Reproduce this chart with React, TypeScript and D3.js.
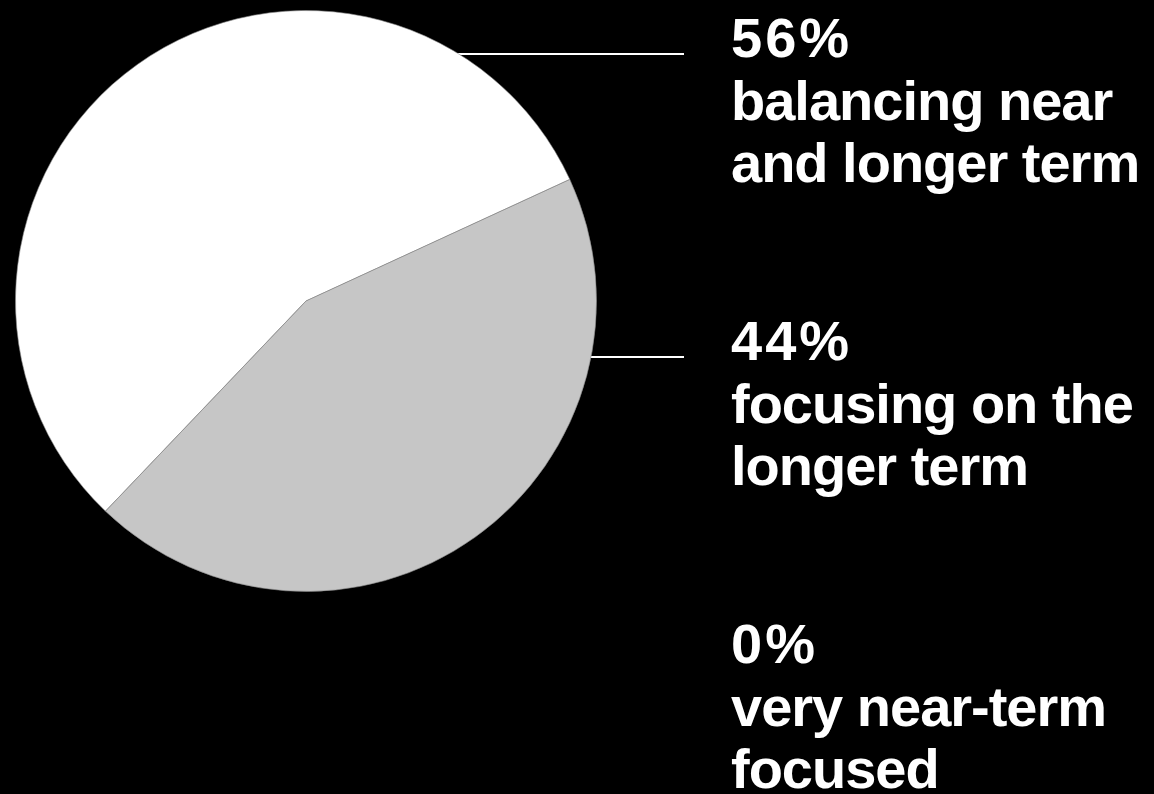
import React from "react";
import * as d3 from "d3";

const categories = ["balancing near and longer term", "focusing on the longer term", "very near-term focused"];
const values = [56, 44, 0];
const percentLabels = ["56%", "44%", "0%"];
const labelLines = [
  ["balancing near", "and longer term"],
  ["focusing on the", "longer term"],
  ["very near-term", "focused"],
];
const colors = ["#ffffff", "#c6c6c6", "#8a8a8a"];

const W = 1154;
const H = 794;
const cx = 306;
const cy = 301;
const R = 290.5;
const startDeg = -136.35;

export default function App() {
  const pie = d3
    .pie<number>()
    .sort(null)
    .value((d) => d)
    .startAngle((startDeg * Math.PI) / 180)
    .endAngle(((startDeg + 360) * Math.PI) / 180);
  const arcs = pie(values);
  const arc = d3.arc<d3.PieArcDatum<number>>().innerRadius(0).outerRadius(R);

  const blockY = d3.scaleLinear().domain([0, 1]).range([57, 360]);
  const lineStep = 62.5;
  const textX = 731;
  const leaderEnd = 684;

  return (
    <svg
      width={W}
      height={H}
      style={{ position: "fixed", left: 0, top: 0, display: "block", background: "#000" }}
    >
      <rect x={0} y={0} width={W} height={H} fill="#000" />
      {[0, 1].map((i) => (
        <line
          key={"l" + i}
          x1={cx}
          x2={leaderEnd}
          y1={blockY(i) - 3}
          y2={blockY(i) - 3}
          stroke="#fff"
          strokeWidth={2}
        />
      ))}
      <g transform={`translate(${cx},${cy})`}>
        {arcs.map((a, i) =>
          a.value > 0 ? (
            <path key={i} d={arc(a) || ""} fill={colors[i]} stroke="#8a8a8a" strokeWidth={0.6} />
          ) : null
        )}
      </g>
      {categories.map((c, i) => (
        <text
          key={c}
          x={textX}
          y={blockY(i)}
          fill="#fff"
          fontFamily="'Liberation Sans', Arial, Helvetica, sans-serif"
          fontWeight={700}
          fontSize={56}
        >
          <tspan x={textX} letterSpacing={3}>{percentLabels[i]}</tspan>
          {labelLines[i].map((t, j) => (
            <tspan key={j} x={textX} dy={lineStep} letterSpacing={-1}>
              {t}
            </tspan>
          ))}
        </text>
      ))}
    </svg>
  );
}
